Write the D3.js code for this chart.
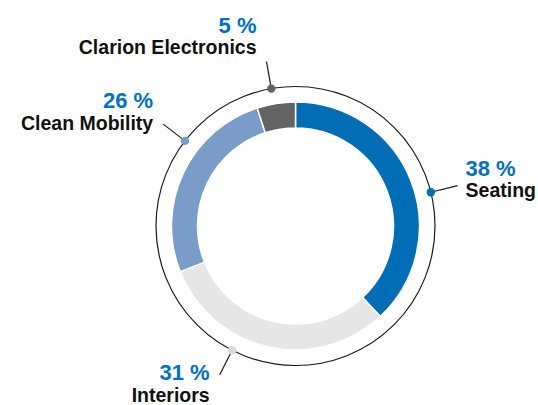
<!DOCTYPE html>
<html>
<head>
<meta charset="utf-8">
<script src="https://cdn.jsdelivr.net/npm/d3@7"></script>
<style>
  body { margin: 0; background: white; }
  svg { display: block; }
</style>
</head>
<body>
<div id="chart"></div>
<script>
// data
var segments = ["Seating", "Interiors", "Clean Mobility", "Clarion Electronics"];
var shares = [38, 31, 26, 5];
var colors = ["#006db5", "#e6e6e6", "#7a9cc8", "#636363"];

// where each callout sits on the outer ring (degrees, clockwise from top)
var calloutAngle = [76, 207, 307.6, 350];
var calloutSide = ["start", "end", "end", "end"];
var calloutDy = [-10, 5.5, -16, -29];

var width = 538, height = 405;
var cx = 295.5, cy = 226;
var rInner = 98, rOuter = 124, rRing = 139.5, rLeader = 167;

var svg = d3.select('#chart')
    .append('svg')
    .attr('width', width)
    .attr('height', height);

var g = svg.append('g').attr('transform', `translate(${cx},${cy})`);

var data = segments.map((s, i) => ({name: s, value: shares[i], color: colors[i], i: i}));

var pie = d3.pie().sort(null).value(d => d.value);
var arc = d3.arc().innerRadius(rInner).outerRadius(rOuter);

g.selectAll('path.slice')
  .data(pie(data))
  .join('path')
   .attr('class', 'slice')
   .attr('d', arc)
   .attr('fill', d => d.data.color)
   .attr('stroke', 'white')
   .attr('stroke-width', 1.5);

// thin outer ring
g.append('circle')
  .attr('r', rRing)
  .attr('fill', 'none')
  .attr('stroke', '#1a1a1a')
  .attr('stroke-width', 1.2);

function pt(angleDeg, r){
    var a = angleDeg * Math.PI / 180;
    return [r * Math.sin(a), -r * Math.cos(a)];
}

var call = g.selectAll('g.callout')
  .data(data)
  .join('g')
   .attr('class', 'callout');

call.append('line')
   .attr('x1', d => pt(calloutAngle[d.i], rRing)[0])
   .attr('y1', d => pt(calloutAngle[d.i], rRing)[1])
   .attr('x2', d => pt(calloutAngle[d.i], rLeader)[0])
   .attr('y2', d => pt(calloutAngle[d.i], rLeader)[1])
   .attr('stroke', '#1a1a1a')
   .attr('stroke-width', 1.2);

call.append('circle')
   .attr('cx', d => pt(calloutAngle[d.i], rRing)[0])
   .attr('cy', d => pt(calloutAngle[d.i], rRing)[1])
   .attr('r', 4.2)
   .attr('fill', d => d.color === '#e6e6e6' ? '#d9d9d9' : d.color);

var lbl = call.append('text')
   .attr('text-anchor', d => calloutSide[d.i])
   .attr('font-family', '"Liberation Sans", Arial, sans-serif')
   .attr('font-weight', 'bold')
   .attr('transform', d => {
       var p = pt(calloutAngle[d.i], rLeader);
       var dx = calloutSide[d.i] === 'start' ? 8 : -10;
       return `translate(${p[0] + dx},${p[1] + calloutDy[d.i]})`;
   });

lbl.append('tspan')
   .attr('x', 0)
   .attr('y', 0)
   .attr('fill', '#0070c0')
   .attr('font-size', '22px')
   .text(d => d.value + ' %');

lbl.append('tspan')
   .attr('x', 0)
   .attr('y', 21.5)
   .attr('fill', '#111')
   .attr('font-size', '19.5px')
   .text(d => d.name);
</script>
</body>
</html>
